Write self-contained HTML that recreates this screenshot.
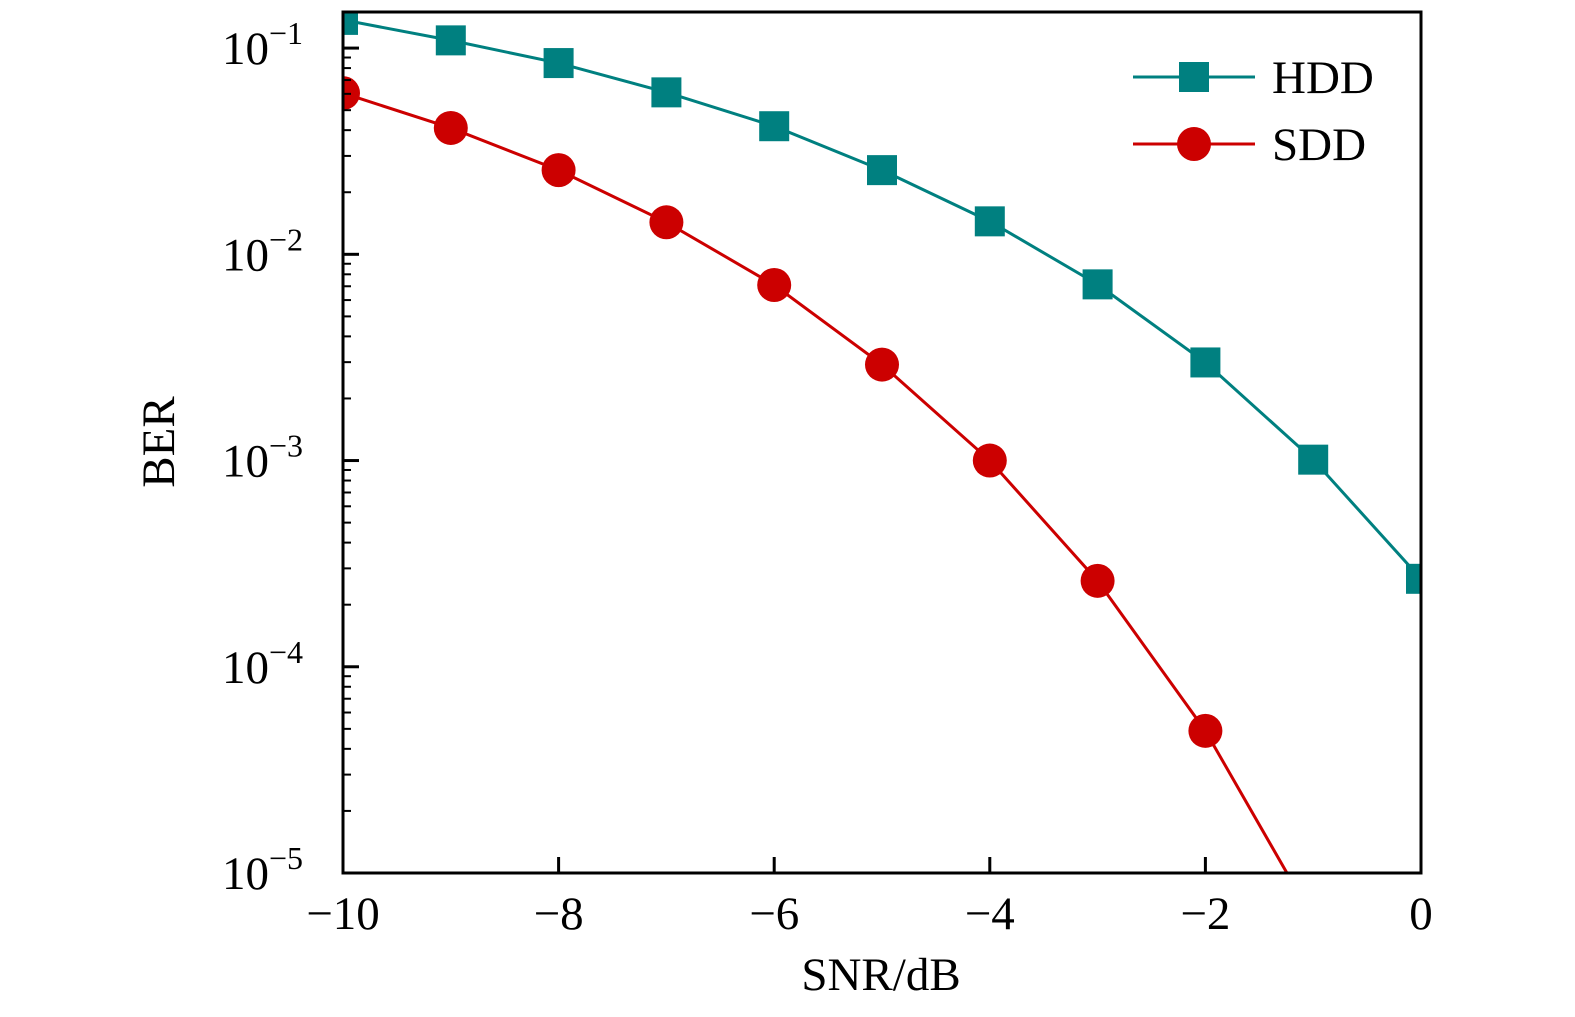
<!DOCTYPE html>
<html><head><meta charset="utf-8"><style>
html,body{margin:0;padding:0;background:#fff;overflow:hidden;width:1575px;height:1017px;position:relative;}
svg{display:block;position:absolute;left:0;top:0;overflow:hidden;}
svg text{font-family:"Liberation Serif",serif;fill:#000;}
</style></head><body>
<svg id="chart" width="1575" height="1017" viewBox="0 0 1575 1017" xmlns="http://www.w3.org/2000/svg">
<defs><clipPath id="clip"><rect x="343" y="12" width="1078" height="861"/></clipPath></defs>
<g id="series" clip-path="url(#clip)"></g>
<g id="axes"></g>
<g id="legend"></g>
</svg>
<script>
const snr = [-10,-9,-8,-7,-6,-5,-4,-3,-2,-1,0];
const hddBer = [0.137,0.109,0.0846,0.061,0.0418,0.0256,0.01445,0.00715,0.00299,0.00101,0.000267];
const sddBer = [0.0605,0.041,0.0256,0.0143,0.0071,0.00292,0.001,0.000261,4.89e-5,6e-6,5e-7];
const xTicks = [-10,-8,-6,-4,-2,0];
const xTickLabels = ["−10","−8","−6","−4","−2","0"];
const yDecades = [-5,-4,-3,-2,-1];

const NS="http://www.w3.org/2000/svg";
const L=343,R=1421,T=12,B=873;
const xMin=-10,xMax=0,lMin=-5,lMax=-0.825;
function xs(v){return L+(v-xMin)/(xMax-xMin)*(R-L);}
function ys(v){return B-(Math.log10(v)-lMin)/(lMax-lMin)*(B-T);}
function mk(tag,attrs,parent){const e=document.createElementNS(NS,tag);for(const k in attrs)e.setAttribute(k,attrs[k]);parent.appendChild(e);return e;}
const series=document.getElementById('series'),axes=document.getElementById('axes'),legend=document.getElementById('legend');

function drawSeries(vals,color,shape,name){
  const pts=snr.map((x,i)=>xs(x)+','+ys(vals[i])).join(' ');
  const pl=mk('polyline',{points:pts,fill:'none',stroke:color,'stroke-width':3},series);
  
  
  snr.forEach((x,i)=>{
    let m;
    if(shape==='square') m=mk('rect',{x:xs(x)-15,y:ys(vals[i])-15,width:30,height:30,fill:color},series);
    else m=mk('circle',{cx:xs(x),cy:ys(vals[i]),r:17,fill:color},series);
    
    
  });
}
drawSeries(hddBer,'#008080','square','hdd');
drawSeries(sddBer,'#cc0000','circle','sdd');

const fr=mk('rect',{x:L,y:T,width:R-L,height:B-T,fill:'none',stroke:'#000','stroke-width':3},axes);


xTicks.forEach((v,i)=>{
  const t=mk('line',{x1:xs(v),x2:xs(v),y1:B,y2:B-16,stroke:'#000','stroke-width':3},axes);
  
  
  const tx=mk('text',{x:xs(v),y:929,'font-size':47,'text-anchor':'middle'},axes);
  tx.textContent=xTickLabels[i];
  
  
});
yDecades.forEach(d=>{
  const y=ys(Math.pow(10,d));
  const t=mk('line',{x1:L,x2:L+16,y1:y,y2:y,stroke:'#000','stroke-width':3},axes);
  
  
  const tx=mk('text',{x:222,y:y+16,'font-size':47},axes);
  
  
  tx.appendChild(document.createTextNode('10'));
  const sp=mk('tspan',{dy:-20,'font-size':32},tx);
  sp.textContent='−'+(-d);
  for(let k=2;k<=9;k++){
    const v=k*Math.pow(10,d);
    if(Math.log10(v)>lMax) break;
    const yy=ys(v);
    const m=mk('line',{x1:L,x2:L+8,y1:yy,y2:yy,stroke:'#000','stroke-width':2},axes);
    
    
  }
});
const xl=mk('text',{x:881,y:990,'font-size':47,'text-anchor':'middle'},axes);
xl.textContent='SNR/dB';


const yl=mk('text',{x:0,y:0,'font-size':47,'text-anchor':'middle',transform:'translate(174,442) rotate(-90)'},axes);
yl.textContent='BER';



[['HDD','#008080','square',77],['SDD','#cc0000','circle',144]].forEach(e=>{
  const g=mk('g',{},legend);
  
  
  mk('line',{x1:1133,x2:1255,y1:e[3],y2:e[3],stroke:e[1],'stroke-width':3},g);
  if(e[2]==='square') mk('rect',{x:1179,y:e[3]-15,width:30,height:30,fill:e[1]},g);
  else mk('circle',{cx:1194,cy:e[3],r:17,fill:e[1]},g);
  const t=mk('text',{x:1272,y:e[3]+16,'font-size':47},g);
  t.textContent=e[0];
});
</script>
</body></html>
